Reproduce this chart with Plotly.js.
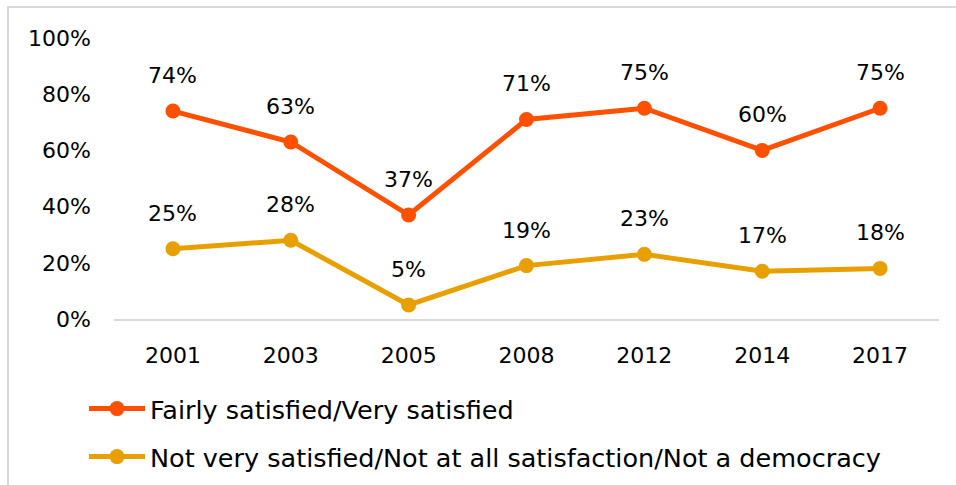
<!DOCTYPE html>
<html>
<head>
<meta charset="utf-8">
<script src="https://cdn.plot.ly/plotly-3.0.1.min.js"></script>
<style>
html,body{margin:0;padding:0;background:#fff;}
#wrap{position:relative;width:956px;height:485px;overflow:hidden;}
#chart{position:absolute;left:0;top:0;width:956px;height:485px;}
#frame{position:absolute;left:7px;top:6px;width:980px;height:500px;border:2px solid #d9d9d9;pointer-events:none;box-sizing:border-box;}
#chart .legend .scrollbox{clip-path:none !important;}
</style>
</head>
<body>
<div id="wrap"><div id="chart"></div><div id="frame"></div></div>
<script>
var years = ['2001','2003','2005','2008','2012','2014','2017'];
var satisfied = [0.74,0.63,0.37,0.71,0.75,0.60,0.75];
var notSatisfied = [0.25,0.28,0.05,0.19,0.23,0.17,0.18];
var seriesNames = ['Fairly satisfied/Very satisfied','Not very satisfied/Not at all satisfaction/Not a democracy'];
var seriesColors = ['#FF5000','#E8A000'];

var FONT = 'DejaVu Sans, sans-serif';
var series = [satisfied, notSatisfied];
var traces = series.map(function(vals,i){
  return {
    type:'scatter', mode:'lines+markers', x:years, y:vals, name:seriesNames[i],
    line:{color:seriesColors[i], width:5},
    marker:{color:seriesColors[i], size:15},
    legend: i===0 ? 'legend' : 'legend2',
    hoverinfo:'skip'
  };
});
var annotations = [];
series.forEach(function(vals){
  vals.forEach(function(v,j){
    annotations.push({x:j, y:v, xref:'x', yref:'y', text:Math.round(v*100)+'%',
      showarrow:false, yanchor:'bottom', yshift:21, font:{family:FONT,size:22,color:'#000'}});
  });
});
var legendFont = {family:FONT, size:25.5, color:'#000'};
var layout = {
  width:956, height:485,
  margin:{l:114,r:17,t:38,b:166,autoexpand:false},
  paper_bgcolor:'#fff', plot_bgcolor:'#fff',
  font:{family:FONT,size:22,color:'#000'},
  xaxis:{type:'category', range:[-0.5,6.5], showgrid:false, zeroline:false, showline:true, linecolor:'#d9d9d9', linewidth:2,
    ticks:'', ticklabelstandoff:16, tickfont:{family:FONT,size:22,color:'#000'}, fixedrange:true, automargin:false},
  yaxis:{range:[0,1], dtick:0.2, tickformat:'.0%', showgrid:false, zeroline:false, showline:false,
    ticks:'', ticklabelstandoff:22, tickfont:{family:FONT,size:22,color:'#000'}, fixedrange:true, automargin:false},
  showlegend:true,
  legend:{x:(84-114)/825, y:-(409-319)/281, xanchor:'left', yanchor:'middle', font:legendFont, itemwidth:56, bgcolor:'rgba(0,0,0,0)'},
  legend2:{x:(84-114)/825, y:-(457-319)/281, xanchor:'left', yanchor:'middle', font:legendFont, itemwidth:56, bgcolor:'rgba(0,0,0,0)'},
  annotations:annotations
};
Plotly.newPlot('chart', traces, layout, {displayModeBar:false, staticPlot:true});
</script>
</body>
</html>
